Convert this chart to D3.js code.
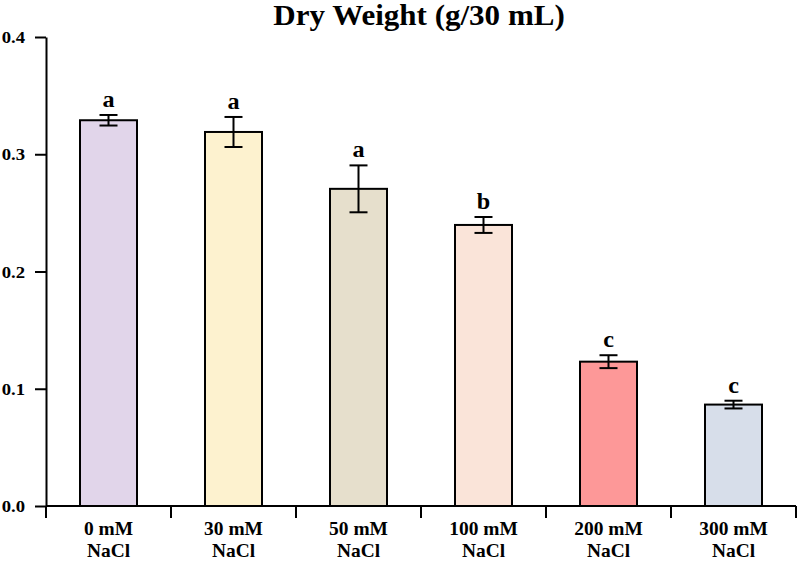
<!DOCTYPE html>
<html><head><meta charset="utf-8">
<script src="https://cdn.jsdelivr.net/npm/d3@7"></script>
<style>body{margin:0;background:#fff}svg{display:block}</style>
</head><body><svg id="c" width="800" height="561"></svg>
<script>
const categories = ["0 mM NaCl","30 mM NaCl","50 mM NaCl","100 mM NaCl","200 mM NaCl","300 mM NaCl"];
const means = [0.329, 0.319, 0.2705, 0.2397, 0.1231, 0.0865];
const errors = [0.0045, 0.0128, 0.020, 0.0068, 0.0055, 0.0033];
const letters = ["a","a","a","b","c","c"];
const colors = ["#e1d5ea","#fdf2cf","#e6dfcc","#fae4d9","#fd9898","#d7deea"];
const yTicks = [0.0, 0.1, 0.2, 0.3, 0.4];
const title = "Dry Weight (g/30 mL)";

const svg = d3.select("#c");
const font = "'Liberation Serif', 'Times New Roman', serif";
const x = d3.scaleBand().domain(categories).range([46, 796]).paddingInner(0.544).paddingOuter(0.272);
const y = d3.scaleLinear().domain([0, 0.4]).range([506, 37]);

function stretchText(g, tx, ty, size, sx, anchor, str) {
  return g.append("text").attr("transform", `translate(${tx},${ty}) scale(${sx},1)`)
    .attr("text-anchor", anchor).attr("font-family", font).attr("font-weight", "bold")
    .attr("font-size", size).attr("fill", "#000").text(str);
}

// title
stretchText(svg, 419, 25, 29, 1.07, "middle", title);

// y axis
const ya = svg.append("g").attr("transform","translate(46,0)")
  .call(d3.axisLeft(y).tickValues(yTicks).tickFormat(d3.format(".1f")).tickSize(11).tickSizeOuter(0));
ya.select(".domain").attr("stroke","#000").attr("stroke-width",2);
ya.selectAll(".tick line").attr("stroke","#000").attr("stroke-width",2);
ya.selectAll(".tick text").remove();
yTicks.forEach(v => stretchText(svg, 25, y(v) + 6, 17, 1.1, "end", d3.format(".1f")(v)));

// bars
svg.append("g").selectAll("rect").data(categories).join("rect")
  .attr("x", d => x(d)).attr("width", x.bandwidth())
  .attr("y", (d,i) => y(means[i])).attr("height", (d,i) => y(0) - y(means[i]))
  .attr("fill", (d,i) => colors[i]).attr("stroke","#000").attr("stroke-width",2);

// error bars
const eb = svg.append("g").attr("stroke","#000").attr("stroke-width",2);
categories.forEach((c,i) => {
  const cx = x(c) + x.bandwidth()/2;
  const hi = y(means[i] + errors[i]), lo = y(means[i] - errors[i]);
  eb.append("line").attr("x1",cx).attr("x2",cx).attr("y1",hi).attr("y2",lo);
  eb.append("line").attr("x1",cx-9).attr("x2",cx+9).attr("y1",hi).attr("y2",hi);
  eb.append("line").attr("x1",cx-9).attr("x2",cx+9).attr("y1",lo).attr("y2",lo);
  stretchText(svg, cx, hi - 8, 23, 1.05, "middle", letters[i]);
});

// x axis
const xa = svg.append("g").attr("transform","translate(0,506)");
xa.append("line").attr("x1",46).attr("x2",796).attr("y1",0).attr("y2",0).attr("stroke","#000").attr("stroke-width",2);
const bounds = [46].concat(categories.map(c => x(c) + x.bandwidth()/2 + x.step()/2));
xa.selectAll("line.t").data(bounds).join("line").attr("class","t")
  .attr("x1",d=>d).attr("x2",d=>d).attr("y1",0).attr("y2",12).attr("stroke","#000").attr("stroke-width",2);
categories.forEach(c => {
  const cx = x(c) + x.bandwidth()/2;
  const parts = c.split(" NaCl");
  stretchText(xa, cx, 29, 18, 1.08, "middle", parts[0]);
  stretchText(xa, cx, 51, 18, 1.08, "middle", "NaCl");
});
</script></body></html>
